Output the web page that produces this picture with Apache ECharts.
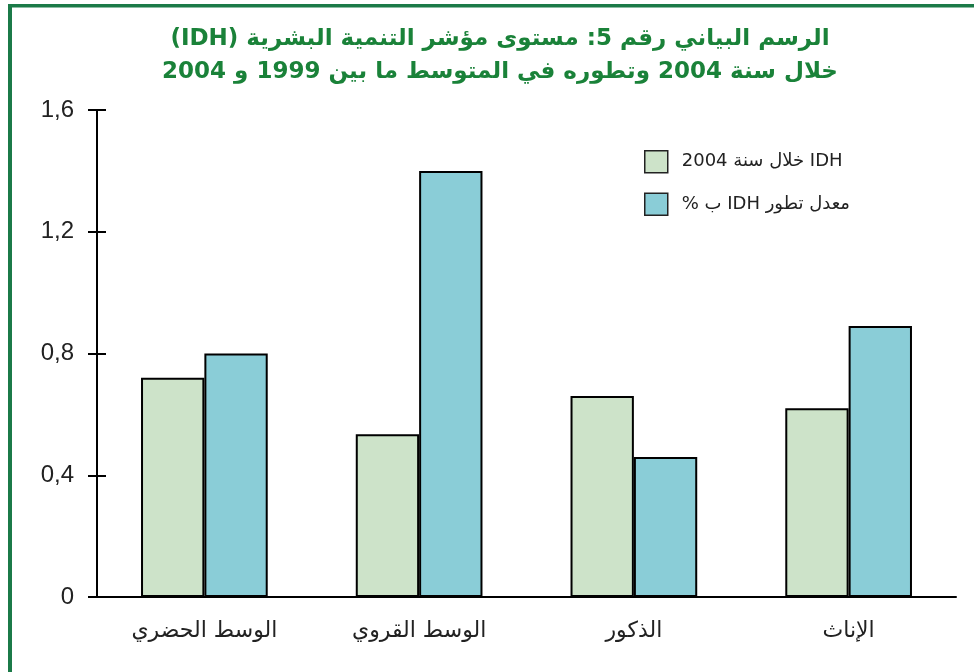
<!DOCTYPE html>
<html>
<head>
<meta charset="utf-8">
<script src="https://cdn.jsdelivr.net/npm/echarts@6/dist/echarts.min.js"></script>
<style>
html, body { margin: 0; padding: 0; background: #fff; }
#main { width: 974px; height: 672px; }
</style>
</head>
<body>
<div id="main" dir="rtl"></div>
<script>
// المعطيات
var categories = ['الوسط الحضري', 'الوسط القروي', 'الذكور', 'الإناث'];
var seriesNames = ['IDH خلال سنة 2004', 'معدل تطور IDH ب %'];
var idh2004 = [0.72, 0.535, 0.66, 0.62];
var evolution = [0.80, 1.40, 0.46, 0.89];
var yTicks = { min: 0, max: 1.6, interval: 0.4 };

var titleText = 'الرسم البياني رقم 5: مستوى مؤشر التنمية البشرية (IDH)\nخلال سنة 2004 وتطوره في المتوسط ما بين 1999 و 2004';

var echart = echarts.init(document.getElementById('main'));
var frameColor = '#1b7a48';
var gridBox = { left: 97, right: 18, top: 110, bottom: 75, outerBoundsMode: 'none' };

var option = {
    backgroundColor: '#fff',
    animation: false,
    color: ['#cde3c9', '#8acdd7'],
    title: {
        text: titleText,
        left: 500,
        top: 23,
        padding: 0,
        textAlign: 'center',
        textStyle: {
            color: '#1a8239',
            fontFamily: 'DejaVu Sans',
            fontWeight: 'bold',
            fontSize: 23,
            lineHeight: 33
        }
    },
    legend: {
        orient: 'vertical',
        left: 644,
        top: 150,
        padding: 0,
        icon: 'rect',
        itemWidth: 23,
        itemHeight: 22,
        itemGap: 19,
        data: seriesNames,
        itemStyle: { borderColor: '#222', borderWidth: 1.5 },
        textStyle: {
            color: '#222',
            fontFamily: 'DejaVu Sans',
            fontSize: 18,
            padding: [0, 0, 0, 9]
        }
    },
    // شبكتان بنفس المقاس: الثانية فقط للعلامات الداخلية على المحور العمودي
    grid: [gridBox, gridBox],
    graphic: [
        { type: 'rect', shape: { x: 8, y: 4, width: 4, height: 680 }, style: { fill: frameColor } },
        { type: 'rect', shape: { x: 8, y: 4, width: 980, height: 3.5 }, style: { fill: frameColor } }
    ],
    xAxis: [{
        type: 'category',
        data: categories,
        axisLine: { lineStyle: { color: '#000', width: 2 } },
        axisTick: { length: 7, lineStyle: { color: '#000', width: 2 } },
        axisLabel: {
            margin: 23,
            color: '#222',
            fontFamily: 'DejaVu Sans',
            fontSize: 22
        }
    }, {
        gridIndex: 1,
        type: 'category',
        data: categories,
        show: false
    }],
    yAxis: [{
        type: 'value',
        min: yTicks.min,
        max: yTicks.max,
        interval: yTicks.interval,
        axisLine: { show: true, lineStyle: { color: '#000', width: 2 } },
        axisTick: { show: true, length: 9, lineStyle: { color: '#000', width: 2 } },
        splitLine: { show: false },
        axisLabel: {
            margin: 23,
            color: '#222',
            fontFamily: 'Liberation Sans',
            fontSize: 24,
            formatter: function (v) { return String(v).replace('.', ','); }
        }
    }, {
        gridIndex: 1,
        type: 'value',
        position: 'left',
        min: yTicks.min,
        max: yTicks.max,
        interval: yTicks.interval,
        axisLine: { show: true, lineStyle: { color: '#000', width: 2 } },
        axisTick: { show: true, inside: true, length: 9, lineStyle: { color: '#000', width: 2 } },
        splitLine: { show: false },
        axisLabel: { show: false }
    }],
    series: [{
        name: seriesNames[0],
        type: 'bar',
        barWidth: '29.5%',
        barGap: '0%',
        itemStyle: { borderColor: '#000', borderWidth: 2 },
        data: idh2004
    }, {
        name: seriesNames[1],
        type: 'bar',
        barWidth: '29.5%',
        barGap: '0%',
        itemStyle: { borderColor: '#000', borderWidth: 2 },
        data: evolution
    }, {
        name: 'ticks',
        type: 'line',
        xAxisIndex: 1,
        yAxisIndex: 1,
        data: []
    }]
};

echart.setOption(option);
</script>
</body>
</html>
